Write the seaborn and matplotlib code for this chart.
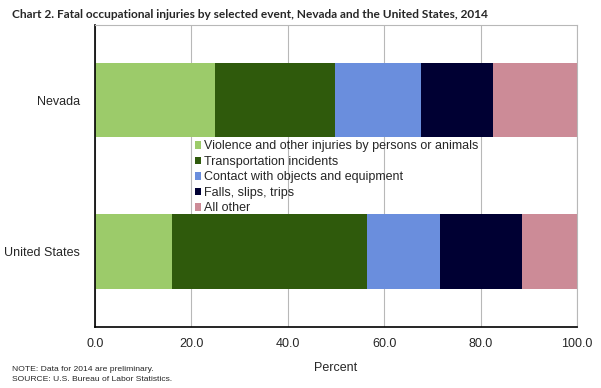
import numpy as np
import pandas as pd
import matplotlib
matplotlib.use('Agg')
import matplotlib.pyplot as plt
import seaborn as sns

# ── data (percent of fatal injuries by event) ─────────────────────
REGIONS  = ['Nevada', 'United States']
EVENTS   = ['Violence and other injuries by persons or animals',
            'Transportation incidents',
            'Contact with objects and equipment',
            'Falls, slips, trips',
            'All other']
violence  = [24.9, 16.0]
transport = [25.0, 40.4]
contact   = [17.7, 15.2]
falls     = [14.9, 16.9]
other     = [17.5, 11.5]
COLORS = ['#9CCB6A', '#2F5A0C', '#6A8EDD', '#000033', '#CC8B97']

df = pd.DataFrame({'region': REGIONS, EVENTS[0]: violence, EVENTS[1]: transport,
                   EVENTS[2]: contact, EVENTS[3]: falls, EVENTS[4]: other})
cum = df[EVENTS].cumsum(axis=1)
cum['region'] = df['region']

sns.set_style('white')
plt.rcParams['font.family'] = ['Liberation Sans', 'DejaVu Sans']

fig, ax = plt.subplots(figsize=(6.01, 3.88), dpi=100)
fig.subplots_adjust(left=0.158, right=0.960, bottom=0.157, top=0.936)

# stacked bars: draw cumulative totals from the widest down
for ev, col in reversed(list(zip(EVENTS, COLORS))):
    sns.barplot(data=cum, x=ev, y='region', color=col, width=0.49,
                saturation=1, ax=ax, label=ev, edgecolor='none')

ax.set_xlim(0, 100)
ax.set_xticks(np.arange(0, 101, 20))
ax.set_xticklabels([f'{v:.1f}' for v in np.arange(0, 101, 20)], fontsize=9)
ax.tick_params(axis='y', labelsize=9, length=0, pad=11)
ax.tick_params(axis='x', direction='inout', length=5, width=1, color='black', pad=5)
ax.xaxis.grid(True, color='#B8B8B8', linewidth=0.8)
ax.set_axisbelow(True)
for s in ['top', 'right']:
    ax.spines[s].set_color('#B8B8B8')
    ax.spines[s].set_linewidth(0.8)
for s in ['left', 'bottom']:
    ax.spines[s].set_color('black')
    ax.spines[s].set_linewidth(1.2)
ax.set_xlabel('Percent', fontsize=9, labelpad=9)
ax.set_ylabel('')

handles, labels = ax.get_legend_handles_labels()
order = [labels.index(e) for e in EVENTS]
ax.legend([handles[i] for i in order], [labels[i] for i in order],
          loc='center left', bbox_to_anchor=(0.194, 0.495), frameon=False,
          fontsize=9, handlelength=0.5, handleheight=0.5,
          handletextpad=0.25, labelspacing=0.28, borderpad=0)

fig.text(0.02, 0.953, 'Chart 2. Fatal occupational injuries by selected event, Nevada and the United States, 2014',
         fontsize=8.6, fontweight='bold', family=['Lato', 'DejaVu Sans'])
fig.text(0.02, 0.045, 'NOTE: Data for 2014 are preliminary.', fontsize=6.1)
fig.text(0.02, 0.018, 'SOURCE: U.S. Bureau of Labor Statistics.', fontsize=6.1)

plt.savefig('out.png', dpi=100)
